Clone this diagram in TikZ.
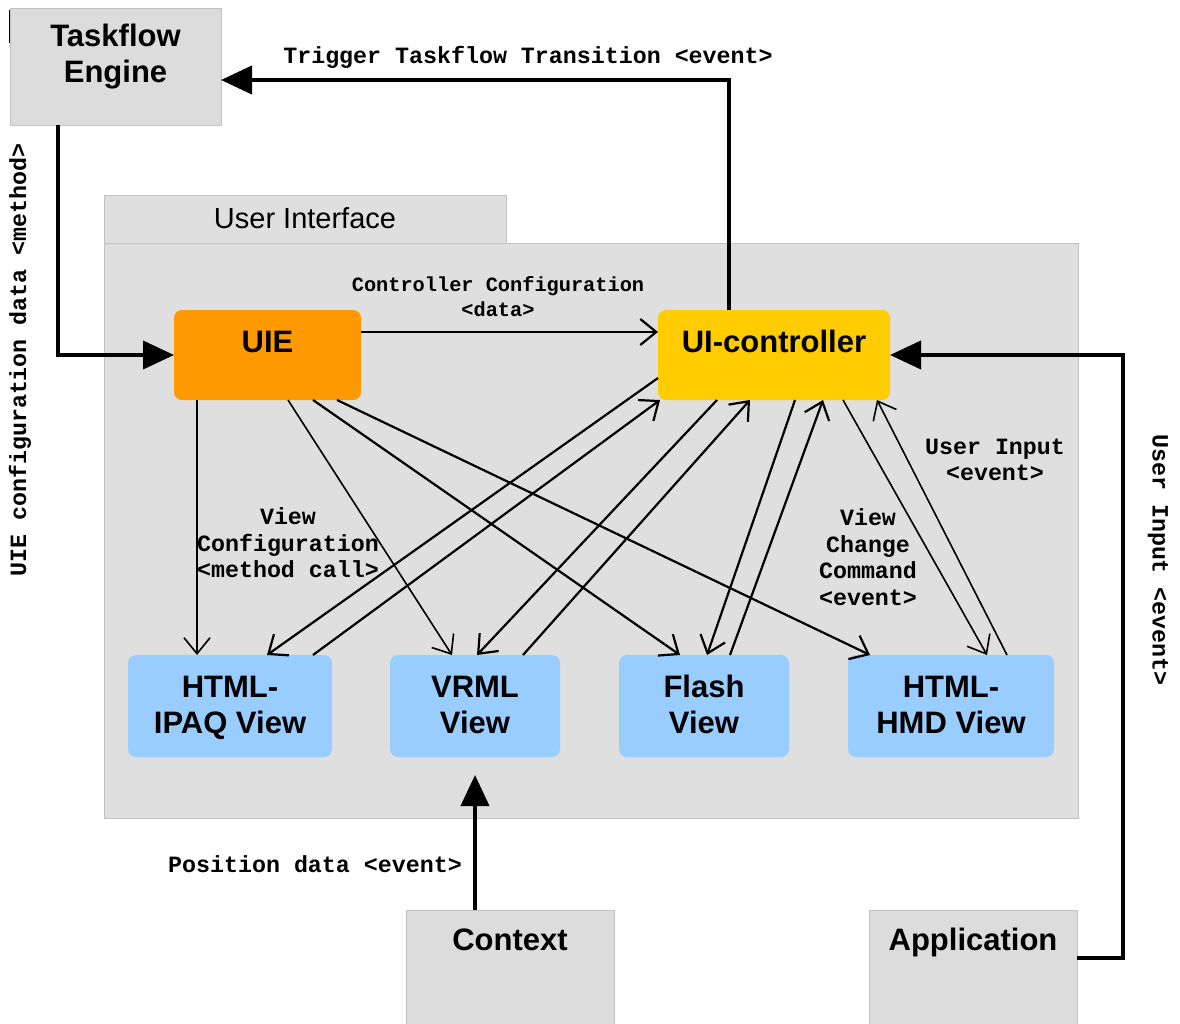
\documentclass[tikz,border=0pt]{standalone}
\usepackage{fontspec}
\setmainfont{Liberation Sans}
\newfontfamily\monofnt{Liberation Mono}
\usetikzlibrary{arrows.meta}

\definecolor{boxgray}{HTML}{DCDCDC}
\definecolor{areagray}{HTML}{DFDFDF}
\definecolor{edgegray}{HTML}{C2C2C2}
\definecolor{uieorange}{HTML}{FF9900}
\definecolor{uicyellow}{HTML}{FFCC00}
\definecolor{viewblue}{HTML}{99CCFF}

\begin{document}
\begin{tikzpicture}[x=1pt,y=-1pt,
  every node/.style={inner sep=0pt, outer sep=0pt},
  graybox/.style={draw=edgegray, line width=1pt, fill=boxgray, anchor=north west,
    font=\fontsize{31}{36}\selectfont\bfseries, align=center},
  roundbox/.style={rounded corners=8pt, anchor=north west,
    font=\fontsize{31}{36}\selectfont\bfseries, align=center},
  viewbox/.style={roundbox, fill=viewblue, minimum height=102pt, text height=60pt, text depth=6pt},
  monolabel/.style={font=\fontsize{23.3}{26.5}\selectfont\monofnt\bfseries, align=center},
  smallmono/.style={font=\fontsize{20.3}{25}\selectfont\monofnt\bfseries, align=center},
  bigarrow/.style={line width=4pt, -{Triangle[length=31pt,width=28pt]}},
  thinarrow/.style={line width=2.2pt, -{Straight Barb[length=16pt,width=26pt]}},
  lighter/.style={line width=1.6pt}
]
\useasboundingbox (0,0) rectangle (1180,1023);
\fill[white] (0,0) rectangle (1180,1023);

% stray mark at top left
\draw[line width=3pt] (10,10) -- (10,43);

% User Interface area and tab
\node[draw=edgegray, line width=1pt, fill=areagray, anchor=north west,
  minimum width=974pt, minimum height=575pt] (uiarea) at (104,243) {};
\node[draw=edgegray, line width=1pt, fill=areagray, anchor=north west,
  minimum width=402pt, minimum height=48pt, text height=20pt, text depth=2pt,
  font=\fontsize{29}{34}\selectfont] (uitab) at (104,195) {User Interface};

% outer boxes
\node[graybox, minimum width=211pt, minimum height=117pt, text height=40pt, text depth=9pt]
  (te) at (10,8) {Taskflow\\Engine};
\node[graybox, minimum width=208pt, minimum height=120pt, text height=5pt, text depth=45pt]
  (ctx) at (406,910) {Context};
\node[graybox, minimum width=208pt, minimum height=120pt, text height=5pt, text depth=45pt]
  (app) at (869,910) {Application};

% UIE and controller
\node[roundbox, fill=uieorange, minimum width=187pt, minimum height=90pt,
  text height=15pt, text depth=21pt] (uie) at (174,310) {UIE};
\node[roundbox, fill=uicyellow, minimum width=232pt, minimum height=90pt,
  text height=15pt, text depth=21pt] (uic) at (658,310) {UI-controller};

% views
\node[viewbox, minimum width=204pt] (ipaq) at (128,655) {HTML-\\IPAQ View};
\node[viewbox, minimum width=170pt] (vrml) at (390,655) {VRML\\View};
\node[viewbox, minimum width=170pt] (flash) at (619,655) {Flash\\View};
\node[viewbox, minimum width=206pt] (hmd) at (848,655) {HTML-\\HMD View};

% thick connectors
\draw[bigarrow] ([xshift=48pt]te.south west) |- (uie.west);
\draw[bigarrow] ([xshift=71pt]uic.north west) |- ([yshift=-13.5pt]te.east);
\draw[bigarrow] ([yshift=12pt]app.east) -- ++(46,0) |- (uic.east);
\draw[bigarrow] ([xshift=-35pt]ctx.north) -- ([yshift=-18pt]vrml.south);

% UIE -> controller
\draw[thinarrow] ([yshift=23pt]uie.east) -- ([yshift=23pt]uic.west);

% UIE -> views
\draw[thinarrow, lighter] ([xshift=23pt]uie.south west) -- ([xshift=69pt]ipaq.north west);
\draw[thinarrow, lighter] ([xshift=114pt]uie.south west) -- ([xshift=62pt]vrml.north west);
\draw[thinarrow] ([xshift=139pt]uie.south west) -- ([xshift=61pt]flash.north west);
\draw[thinarrow] ([xshift=163pt]uie.south west) -- ([xshift=22pt]hmd.north west);

% controller <-> views
\draw[thinarrow] ([yshift=-23pt]uic.west) -- ([xshift=139pt]ipaq.north west);
\draw[thinarrow] ([xshift=185pt]ipaq.north west) -- ([xshift=2pt]uic.south west);
\draw[thinarrow] ([xshift=59pt]uic.south west) -- ([xshift=87pt]vrml.north west);
\draw[thinarrow] ([xshift=133pt]vrml.north west) -- ([xshift=92pt]uic.south west);
\draw[thinarrow] ([xshift=137pt]uic.south west) -- ([xshift=88pt]flash.north west);
\draw[thinarrow] ([xshift=111pt]flash.north west) -- ([xshift=165pt]uic.south west);
\draw[thinarrow, lighter] ([xshift=185pt]uic.south west) -- ([xshift=139pt]hmd.north west);
\draw[thinarrow, lighter] ([xshift=159pt]hmd.north west) -- ([xshift=219pt]uic.south west);

% labels
\node[monolabel] (lbltrig) at (528,57) {Trigger Taskflow Transition <event>};
\node[smallmono] (lblcc) at (498,297) {Controller Configuration\\<data>};
\node[monolabel, rotate=90] (lbluiecfg) at (20,360) {UIE configuration data <method>};
\node[monolabel, rotate=-90] (lbluserin) at (1158,560) {User Input <event>};
\node[monolabel] (lblvc) at (288,543) {View\\Configuration\\<method call>};
\node[monolabel] (lblvcc) at (868,557) {View\\Change\\Command\\<event>};
\node[monolabel] (lblui) at (995,460) {User Input\\<event>};
\node[monolabel] (lblpos) at (315,864) {Position data <event>};
\end{tikzpicture}
\end{document}
